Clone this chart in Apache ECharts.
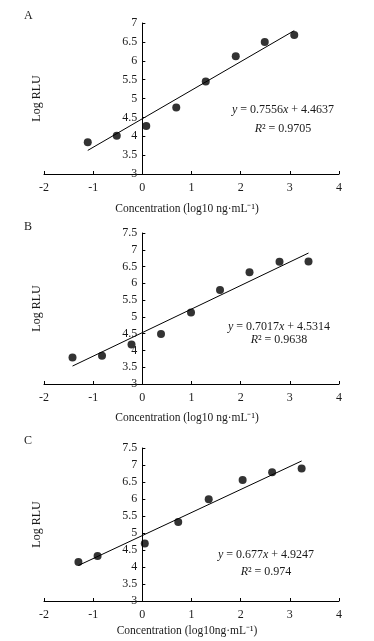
<!DOCTYPE html>
<html>
<head>
<meta charset="utf-8">
<script src="https://cdn.jsdelivr.net/npm/echarts@6/dist/echarts.min.js"></script>
<style>
  html, body { margin: 0; padding: 0; background: #fff; }
  #chart { width: 374px; height: 641px; }
</style>
</head>
<body>
<div id="chart"></div>
<script>
// data
var concA = [-1.11, -0.52, 0.08, 0.69, 1.29, 1.90, 2.49, 3.09];
var rluA  = [3.84, 4.01, 4.27, 4.76, 5.45, 6.12, 6.50, 6.68];
var concB = [-1.42, -0.82, -0.22, 0.38, 0.99, 1.58, 2.18, 2.79, 3.38];
var rluB  = [3.79, 3.84, 4.18, 4.49, 5.13, 5.80, 6.33, 6.64, 6.65];
var concC = [-1.30, -0.91, 0.05, 0.73, 1.35, 2.04, 2.64, 3.24];
var rluC  = [4.15, 4.32, 4.69, 5.32, 5.99, 6.56, 6.79, 6.90];

var panelNames = ['A', 'B', 'C'];
var slopes = [0.7556, 0.7017, 0.677];
var intercepts = [4.4637, 4.5314, 4.9247];
var r2 = ['0.9705', '0.9638', '0.974'];
var xNames = ['Concentration (log10 ng·mL⁻¹)', 'Concentration (log10 ng·mL⁻¹)', 'Concentration (log10ng·mL⁻¹)'];
var yMax = [7, 7.5, 7.5];

var font = '"Liberation Serif", "Times New Roman", serif';
var ink = '#1a1a1a';

var dom = document.getElementById('chart');
var myChart = echarts.init(dom);

var xs = [concA, concB, concC];
var ys = [rluA, rluB, rluC];
var gridLeft = 44, gridRight = 35;
var grids = [
    {left: gridLeft, right: gridRight, top: 23, height: 151, outerBoundsMode: 'none', containLabel: false},
    {left: gridLeft, right: gridRight, top: 233, height: 151, outerBoundsMode: 'none', containLabel: false},
    {left: gridLeft, right: gridRight, top: 448, height: 153, outerBoundsMode: 'none', containLabel: false}
];
// y axis crosses at x = 0 (2 of 6 units in from the left)
var yOffset = -(374 - gridLeft - gridRight) * 2 / 6;
var xNameGap = [29, 28, 24];
// equation text centres (pixels)
var eqPos = [[283, 110, 129], [279, 327, 340], [266, 555, 572]];

var xAxis = [], yAxis = [], series = [], titles = [], graphics = [];
for (var i = 0; i < 3; i++) {
    xAxis.push({
        gridIndex: i, type: 'value', min: -2, max: 4, interval: 1,
        name: xNames[i], nameLocation: 'middle', nameGap: xNameGap[i],
        nameTextStyle: {fontFamily: font, fontSize: 11.5, color: ink, padding: [0, 9, 0, 0]},
        axisLine: {lineStyle: {color: '#000', width: 1}},
        axisTick: {inside: true, length: 3, lineStyle: {color: '#000'}},
        axisLabel: {fontFamily: font, fontSize: 12, color: ink, margin: 8},
        splitLine: {show: false}
    });
    yAxis.push({
        gridIndex: i, type: 'value', min: 3, max: yMax[i], interval: 0.5,
        position: 'left', offset: yOffset,
        name: 'Log RLU', nameLocation: 'middle', nameGap: 99, nameMoveOverlap: false,
        nameTextStyle: {fontFamily: font, fontSize: 12, color: ink},
        axisLine: {onZero: false, lineStyle: {color: '#000', width: 1}},
        axisTick: {inside: true, length: 3, lineStyle: {color: '#000'}},
        axisLabel: {fontFamily: font, fontSize: 12, color: ink, margin: 5},
        splitLine: {show: false}
    });
    var pts = xs[i].map(function (x, k) { return [x, ys[i][k]]; });
    series.push({
        type: 'scatter', xAxisIndex: i, yAxisIndex: i,
        data: pts, symbolSize: 8,
        itemStyle: {color: '#000'}
    });
    var x0 = xs[i][0], x1 = xs[i][xs[i].length - 1];
    series.push({
        type: 'line', xAxisIndex: i, yAxisIndex: i,
        data: [[x0, slopes[i] * x0 + intercepts[i]], [x1, slopes[i] * x1 + intercepts[i]]],
        symbol: 'none', lineStyle: {color: '#000', width: 1}, z: 1
    });
    titles.push({
        text: panelNames[i], left: 19, top: [5, 216, 430][i],
        textStyle: {fontFamily: font, fontSize: 12, fontWeight: 'normal', color: ink}
    });
    graphics.push({
        type: 'text', x: eqPos[i][0], y: eqPos[i][1],
        style: {
            text: '{i|y} = ' + slopes[i] + '{i|x} + ' + intercepts[i],
            align: 'center', verticalAlign: 'middle',
            font: '12px ' + font, fill: ink,
            rich: {i: {fontStyle: 'italic', fontFamily: font, fontSize: 12}}
        }
    });
    graphics.push({
        type: 'text', x: eqPos[i][0], y: eqPos[i][2],
        style: {
            text: '{i|R}² = ' + r2[i],
            align: 'center', verticalAlign: 'middle',
            font: '12px ' + font, fill: ink,
            rich: {i: {fontStyle: 'italic', fontFamily: font, fontSize: 12}}
        }
    });
}

var option = {
    backgroundColor: '#fff',
    animation: false,
    title: titles,
    grid: grids,
    xAxis: xAxis,
    yAxis: yAxis,
    series: series,
    graphic: graphics
};
myChart.setOption(option, true);
</script>
</body>
</html>
